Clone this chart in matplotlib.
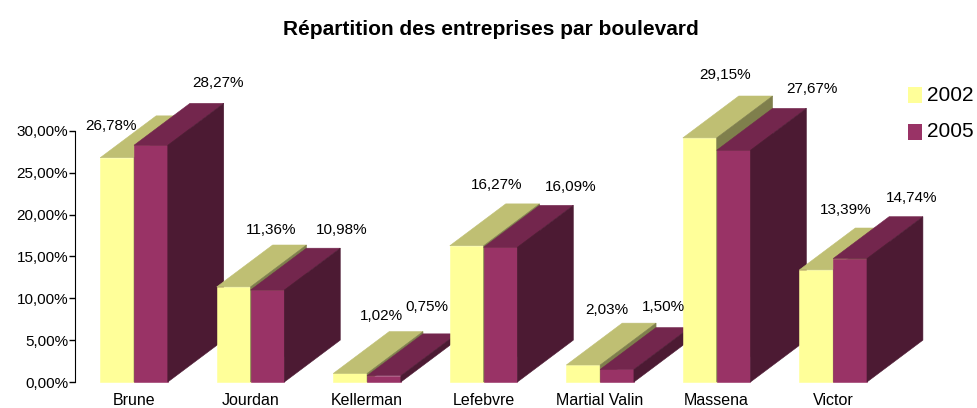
import matplotlib.pyplot as plt
from matplotlib.patches import Polygon
from matplotlib.ticker import FuncFormatter

plt.rcParams['font.family'] = ['Liberation Sans', 'DejaVu Sans']

boulevards = ["Brune", "Jourdan", "Kellerman", "Lefebvre", "Martial Valin", "Massena", "Victor"]
years = ["2002", "2005"]
share_2002 = [26.78, 11.36, 1.02, 16.27, 2.03, 29.15, 13.39]
share_2005 = [28.27, 10.98, 0.75, 16.09, 1.50, 27.67, 14.74]

# (front, top, side) shades for each series
shades = [("#FFFF99", "#BFBF73", "#7F7F4C"),
          ("#993366", "#73264D", "#4C1A33")]
# label offsets in pixels from the back top centre of each bar
offsets_2002 = [(-62, -10), (-18, 15), (-25, 16), (-26, 19), (-32, 13), (-31, 21), (-27, 18)]
offsets_2005 = [(11, 20), (18, 18), (-13, 27), (14, 18), (-10, 21), (22, 19), (6, 19)]

bar_w = 0.29
dx, dy = 0.48, 5.0   # oblique depth, in data units

fig = plt.figure(figsize=(9.77, 4.08), dpi=100)
ax = fig.add_axes([0.0768, 0.0637, 0.875, 0.78])
ax.set_xlim(-0.506, 6.83)
ax.set_ylim(0, 38)


def prism(x0, h, cols):
    x1 = x0 + bar_w
    front = [(x0, 0), (x1, 0), (x1, h), (x0, h)]
    top = [(x0, h), (x1, h), (x1 + dx, h + dy), (x0 + dx, h + dy)]
    side = [(x1, 0), (x1 + dx, dy), (x1 + dx, h + dy), (x1, h)]
    for pts, c in zip((front, top, side), cols):
        ax.add_patch(Polygon(pts, closed=True, facecolor=c, edgecolor=c,
                             linewidth=0.4, clip_on=False))


def pct(v):
    return f"{v:.2f}".replace(".", ",") + "%"


for i in range(len(boulevards)):
    for s, vals in enumerate((share_2002, share_2005)):
        x0 = i - bar_w + s * bar_w
        prism(x0, vals[i], shades[s])
    for s, (vals, offs) in enumerate(((share_2002, offsets_2002), (share_2005, offsets_2005))):
        x0 = i - bar_w + s * bar_w
        ax.annotate(pct(vals[i]), (x0 + bar_w / 2 + dx, vals[i] + dy),
                    xytext=offs[i], textcoords="offset pixels",
                    ha="center", va="center", fontsize=11, annotation_clip=False)

ax.set_yticks([0, 5, 10, 15, 20, 25, 30])
ax.yaxis.set_major_formatter(FuncFormatter(lambda v, p: pct(v)))
ax.tick_params(axis="y", direction="out", length=4, width=1, labelsize=11, pad=1)
ax.set_xticks(range(len(boulevards)))
ax.set_xticklabels(boulevards, fontsize=11.5)
ax.tick_params(axis="x", length=0, pad=8)
for sp in ("top", "right", "bottom"):
    ax.spines[sp].set_visible(False)
ax.spines["left"].set_bounds(0, 30)

fig.text(0.5026, 0.928, "Répartition des entreprises par boulevard",
         ha="center", va="center", fontsize=15, fontweight="bold")

# legend
for s, yr in enumerate(years):
    yc = 0.767 - s * 0.09
    fig.patches.append(plt.Rectangle((0.929, yc - 0.019), 0.015, 0.038,
                                     transform=fig.transFigure, facecolor=shades[s][0],
                                     edgecolor="none"))
    fig.text(0.949, yc, yr, ha="left", va="center", fontsize=15)

fig.savefig("out.png", dpi=100)
